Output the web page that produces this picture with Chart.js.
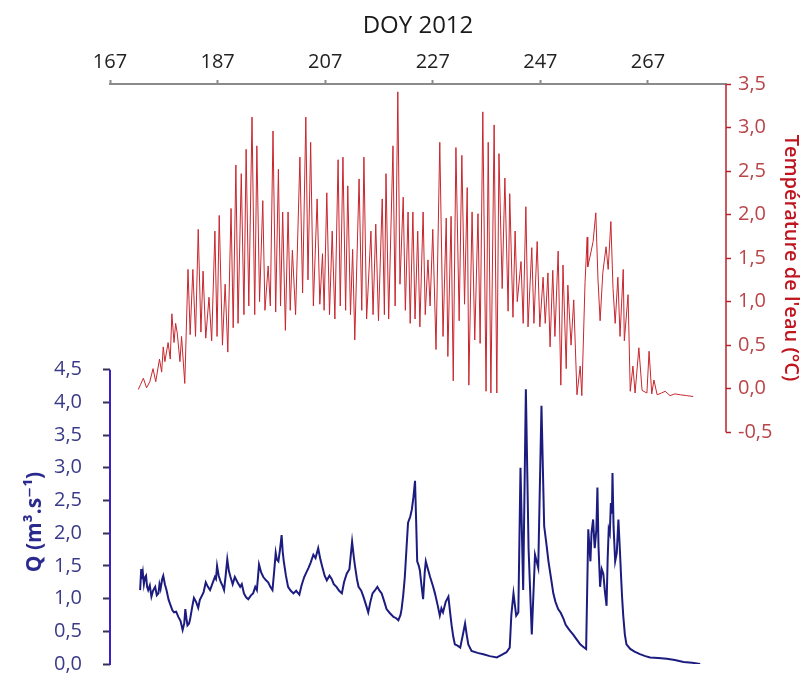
<!DOCTYPE html>
<html>
<head>
<meta charset="utf-8">
<script src="https://cdn.jsdelivr.net/npm/chart.js@4"></script>
<style>
  html, body { margin: 0; padding: 0; background: #ffffff; }
  #wrap { width: 806px; height: 697px; position: relative; }
</style>
</head>
<body>
<div id="wrap"><canvas id="c"></canvas></div>
<script>
// ---- Data ----
const xTitle = 'DOY 2012';
const qTitle = 'Q (m³.s⁻¹)';
const tTitle = "Température de l'eau (°C)";

const xTickValues = [167, 187, 207, 227, 247, 267];
const qTickValues = [0, 0.5, 1, 1.5, 2, 2.5, 3, 3.5, 4, 4.5];
const tTickValues = [-0.5, 0, 0.5, 1, 1.5, 2, 2.5, 3, 3.5];

// Water temperature (°C) : day of year / value
const tDoy = [
  172.26,172.7,173.2,173.8,174.4,175.0,175.5,176.2,176.6,176.9,177.2,177.8,178.2,178.5,178.9,179.2,179.5,180.0,180.3,180.9,
  181.5,181.9,182.4,182.9,183.4,183.9,184.3,184.8,185.4,185.9,186.5,186.9,187.3,187.9,188.4,188.9,189.5,189.9,190.4,190.8,
  191.4,191.9,192.3,192.8,193.4,193.9,194.3,194.8,195.4,195.8,196.4,196.8,197.3,197.8,198.3,198.7,199.1,199.6,200.1,200.5,
  200.9,201.5,202.3,202.8,203.4,203.8,204.3,204.8,205.5,206.0,206.5,206.8,207.3,207.8,208.3,208.8,209.4,209.8,210.3,210.8,
  211.2,211.7,212.1,212.5,213.3,213.8,214.2,214.7,215.5,215.9,216.4,216.9,217.6,218.0,218.3,218.8,219.6,220.0,220.5,220.9,
  221.5,221.9,222.4,222.8,223.3,223.7,224.2,224.6,225.2,225.6,226.1,226.5,227.0,227.6,228.3,228.9,229.5,229.8,230.4,230.8,
  231.3,231.9,232.4,232.9,233.4,233.7,234.3,234.8,235.4,235.8,236.3,236.9,237.3,237.8,238.4,238.9,239.3,239.9,240.4,241.0,
  241.3,241.9,242.3,242.7,243.4,243.8,244.3,244.7,245.4,245.8,246.4,246.9,247.5,247.9,248.4,248.8,249.3,249.7,250.3,250.8,
  251.2,251.8,252.1,252.7,253.2,253.8,254.4,254.7,255.3,255.7,255.8,256.2,256.8,257.3,257.7,258.1,258.6,259.2,259.6,260.1,
  260.5,260.9,261.4,261.8,262.4,262.6,263.3,263.7,264.2,264.6,265.3,265.9,266.8,267.2,267.7,268.1,268.7,269.5,270.2,271.1,
  272.0,273.0,274.2,275.4
];
const tVal = [
  -0.01,0.05,0.12,0.01,0.08,0.23,0.08,0.34,0.19,0.48,0.31,0.53,0.34,0.86,0.53,0.75,0.64,0.31,0.60,0.06,
  1.37,0.62,1.37,0.60,1.83,0.65,1.35,0.58,1.05,0.55,1.81,0.60,1.99,0.50,1.20,0.42,2.07,0.70,2.57,0.75,
  2.47,0.85,2.75,0.95,3.12,0.85,2.79,1.00,2.16,0.90,1.41,0.95,2.96,0.88,2.52,0.95,2.03,0.67,2.03,0.90,
  1.59,0.85,2.66,1.10,3.12,1.25,2.83,0.95,2.18,0.97,1.55,0.90,2.25,0.85,1.81,0.80,2.63,0.95,2.66,0.90,
  2.33,0.85,1.60,0.56,2.41,0.90,2.66,0.80,1.81,0.85,1.89,0.78,2.18,0.85,2.47,0.80,2.79,0.95,3.41,1.20,
  2.20,0.90,2.03,0.75,2.03,0.80,1.81,0.71,2.03,0.85,1.48,0.95,1.83,0.45,2.83,0.60,1.96,0.37,1.98,0.09,
  2.77,0.78,2.68,0.97,2.31,0.04,2.03,0.56,2.01,0.52,3.18,-0.03,2.83,-0.05,3.03,-0.05,2.70,1.15,2.42,0.89,
  2.24,0.82,1.81,1.00,1.46,0.75,2.09,0.71,1.62,0.75,1.69,0.71,1.28,0.75,1.33,0.48,1.36,0.60,1.58,0.04,
  1.42,0.23,1.19,0.50,1.02,-0.07,0.26,-0.08,1.22,1.74,1.40,1.51,1.69,2.02,1.26,0.78,1.33,1.63,1.37,1.92,
  1.15,0.75,1.28,0.60,1.37,0.55,1.08,-0.03,0.26,-0.05,0.47,-0.02,-0.05,0.43,-0.06,0.10,-0.07,-0.05,-0.03,-0.08,
  -0.06,-0.07,-0.08,-0.09
];

// Discharge Q (m3/s) : day of year / value
const qDoy = [
  172.6,172.8,172.9,173.1,173.3,173.5,173.7,173.9,174.1,174.4,174.7,175.0,175.4,175.7,176.0,176.2,176.4,176.7,176.9,177.2,
  177.5,177.9,178.3,178.6,178.9,179.3,179.7,180.1,180.5,180.8,181.0,181.2,181.4,181.7,181.9,182.3,182.6,183.0,183.4,183.7,
  184.0,184.4,184.8,185.2,185.6,186.0,186.5,186.7,186.9,187.2,187.6,187.9,188.2,188.5,188.8,189.1,189.4,189.8,190.2,190.7,
  191.2,191.5,191.9,192.3,192.7,193.2,193.6,194.0,194.3,194.5,194.7,195.1,195.5,196.0,196.4,196.8,197.2,197.5,197.8,198.0,
  198.3,198.6,198.9,199.1,199.3,199.7,200.1,200.6,201.1,201.6,202.2,202.6,203.1,203.5,203.9,204.3,204.8,205.2,205.7,206.1,
  206.5,206.9,207.3,207.8,208.2,208.6,209.1,209.6,210.1,210.5,211.0,211.5,212.0,212.3,212.5,212.9,213.2,213.7,214.1,214.6,
  215.0,215.4,215.8,216.2,216.7,217.1,217.5,218.0,218.4,219.0,219.7,220.2,220.6,221.0,221.2,221.5,221.8,222.1,222.4,222.8,
  223.1,223.4,223.7,223.9,224.1,224.4,224.6,224.9,225.2,225.5,225.7,226.1,226.5,227.0,227.4,227.9,228.3,228.6,228.9,229.4,
  229.9,230.2,230.5,230.8,231.1,231.6,232.1,232.6,233.0,233.3,233.6,234.2,235.3,236.4,237.6,238.9,239.8,240.7,241.3,241.6,
  242.0,242.5,242.9,243.3,243.8,244.3,244.8,245.4,246.0,246.6,247.2,247.7,248.1,248.5,249.0,249.4,249.8,250.3,250.8,251.3,
  251.7,252.2,252.6,253.1,253.7,254.4,255.0,255.5,255.9,256.1,256.3,256.5,256.8,257.0,257.1,257.4,257.6,257.8,258.1,258.4,
  258.7,259.0,259.3,259.5,259.7,259.9,260.1,260.3,260.4,260.6,260.9,261.2,261.5,261.8,262.0,262.2,262.4,262.7,263.0,263.7,
  264.5,265.5,266.5,267.4,268.9,270.5,272.0,273.6,275.2,276.7
];
const qVal = [
  1.13,1.45,1.30,1.40,1.22,1.32,1.35,1.18,1.13,1.20,1.03,1.12,1.18,1.05,1.08,1.22,1.15,1.30,1.35,1.22,
  1.13,0.98,0.89,0.82,0.79,0.80,0.72,0.66,0.52,0.62,0.84,0.70,0.59,0.62,0.69,0.88,1.01,0.95,0.86,0.98,
  1.03,1.10,1.25,1.18,1.13,1.22,1.33,1.30,1.50,1.35,1.25,1.20,1.13,1.35,1.60,1.42,1.33,1.22,1.33,1.25,
  1.18,1.22,1.08,1.02,0.99,1.05,1.08,1.18,1.13,1.32,1.52,1.40,1.33,1.28,1.25,1.18,1.13,1.40,1.70,1.60,
  1.57,1.75,1.97,1.72,1.57,1.35,1.18,1.12,1.08,1.12,1.06,1.20,1.33,1.40,1.47,1.55,1.67,1.62,1.77,1.60,
  1.47,1.35,1.28,1.35,1.30,1.22,1.18,1.12,1.08,1.25,1.38,1.45,1.87,1.65,1.52,1.30,1.18,1.12,1.03,0.90,
  0.79,0.95,1.08,1.12,1.18,1.12,1.08,0.95,0.84,0.78,0.72,0.70,0.67,0.75,0.84,1.05,1.33,1.75,2.16,2.25,
  2.36,2.55,2.80,2.20,1.57,1.50,1.43,1.20,0.99,1.40,1.57,1.45,1.33,1.20,1.08,0.90,0.74,0.85,0.79,0.95,
  1.03,0.80,0.59,0.42,0.30,0.28,0.25,0.45,0.62,0.45,0.30,0.20,0.17,0.15,0.12,0.10,0.14,0.18,0.25,0.75,
  1.08,0.74,0.79,3.00,1.13,4.20,1.77,0.45,1.67,1.47,3.95,2.11,1.85,1.57,1.30,1.08,0.95,0.84,0.78,0.69,
  0.60,0.54,0.50,0.45,0.38,0.30,0.26,0.23,2.06,1.80,1.57,2.00,2.21,1.90,1.77,2.05,2.70,1.80,1.18,1.45,
  1.38,1.10,0.89,1.60,2.06,2.00,2.46,2.30,2.92,2.10,1.57,1.70,2.21,1.70,1.33,1.00,0.74,0.45,0.30,0.23,
  0.19,0.15,0.12,0.10,0.09,0.08,0.06,0.03,0.02,0.00
];

// ---- Build chart ----
const tPoints = tDoy.map((d, i) => ({ x: d, y: tVal[i] }));
const qPoints = qDoy.map((d, i) => ({ x: d, y: qVal[i] }));

const FONT = "'Open Sans', 'DejaVu Sans', sans-serif";
const fmt = v => v.toFixed(1).replace('.', ',');

const axisPlugin = {
  id: 'partialAxes',
  afterDraw(chart) {
    const ctx = chart.ctx;
    const q = chart.scales.yQ, t = chart.scales.yT;
    ctx.save();
    ctx.strokeStyle = '#3b22c8';
    ctx.lineWidth = 2;
    ctx.beginPath();
    ctx.moveTo(q.right, q.getPixelForValue(qTickValues[0]) + 1);
    ctx.lineTo(q.right, q.getPixelForValue(qTickValues[qTickValues.length - 1]));
    ctx.stroke();
    ctx.strokeStyle = '#b8202c';
    ctx.lineWidth = 1.5;
    ctx.beginPath();
    ctx.moveTo(t.left, t.getPixelForValue(tTickValues[0]));
    ctx.lineTo(t.left, t.getPixelForValue(tTickValues[tTickValues.length - 1]));
    ctx.stroke();

    ctx.fillStyle = '#2a2a8e';
    ctx.font = "bold 21px " + FONT;
    ctx.textAlign = 'center';
    ctx.textBaseline = 'middle';
    ctx.save();
    ctx.translate(35, 522);
    ctx.rotate(-Math.PI / 2);
    ctx.fillText(qTitle, 0, 0);
    ctx.restore();

    ctx.fillStyle = '#c0141e';
    ctx.font = "600 20px " + FONT;
    ctx.save();
    ctx.translate(791, 258);
    ctx.rotate(Math.PI / 2);
    ctx.fillText(tTitle, 0, 0);
    ctx.restore();
    ctx.restore();
  }
};

new Chart(document.getElementById('c'), {
  type: 'line',
  data: {
    datasets: [
      {
        label: 'Température',
        data: tPoints,
        yAxisID: 'yT',
        borderColor: '#c8262e',
        borderWidth: 1,
        pointRadius: 0,
        tension: 0,
        fill: false
      },
      {
        label: 'Q',
        data: qPoints,
        yAxisID: 'yQ',
        borderColor: '#1c1c80',
        borderWidth: 2,
        pointRadius: 0,
        tension: 0,
        fill: false
      }
    ]
  },
  options: {
    responsive: true,
    maintainAspectRatio: false,
    animation: false,
    devicePixelRatio: 1,
    layout: { padding: { left: 0, right: 0, top: 0, bottom: 10 } },
    plugins: { legend: { display: false }, tooltip: { enabled: false }, title: { display: false } },
    scales: {
      x: {
        type: 'linear',
        position: 'top',
        min: 167,
        max: 281.5,
        afterBuildTicks: s => { s.ticks = xTickValues.map(v => ({ value: v })); },
        afterFit: s => { s.height = 84; },
        ticks: { autoSkip: false, maxRotation: 0, color: '#222222', padding: 6,
                 font: { family: FONT, size: 20 }, callback: v => String(v) },
        grid: { display: true, drawOnChartArea: false, drawTicks: true, tickLength: 4,
                tickColor: '#8a8a8a', tickWidth: 2 },
        border: { display: true, color: '#8a8a8a', width: 2 },
        title: { display: true, text: xTitle, color: '#1a1a1a',
                 font: { family: FONT, size: 24 }, padding: { top: 12, bottom: 0 } }
      },
      yQ: {
        type: 'linear',
        position: 'left',
        min: 0,
        max: 8.868,
        afterBuildTicks: s => { s.ticks = qTickValues.map(v => ({ value: v })); },
        afterFit: s => { s.width = 110; },
        ticks: { autoSkip: false, color: '#3a3a88', padding: 21,
                 font: { family: FONT, size: 20 }, callback: v => fmt(v) },
        grid: { display: true, drawOnChartArea: false, drawTicks: true, tickLength: 7,
                tickColor: '#333355', tickWidth: 2 },
        border: { display: false }
      },
      yT: {
        type: 'linear',
        position: 'right',
        min: -3.163,
        max: 3.5,
        afterBuildTicks: s => { s.ticks = tTickValues.map(v => ({ value: v })); },
        afterFit: s => { s.width = 80; },
        ticks: { autoSkip: false, color: '#b8454a', padding: 7,
                 font: { family: FONT, size: 20 }, callback: v => fmt(v) },
        grid: { display: true, drawOnChartArea: false, drawTicks: true, tickLength: 5,
                tickColor: '#b8202c', tickWidth: 1.5 },
        border: { display: false }
      }
    }
  },
  plugins: [axisPlugin]
});
</script>
</body>
</html>
